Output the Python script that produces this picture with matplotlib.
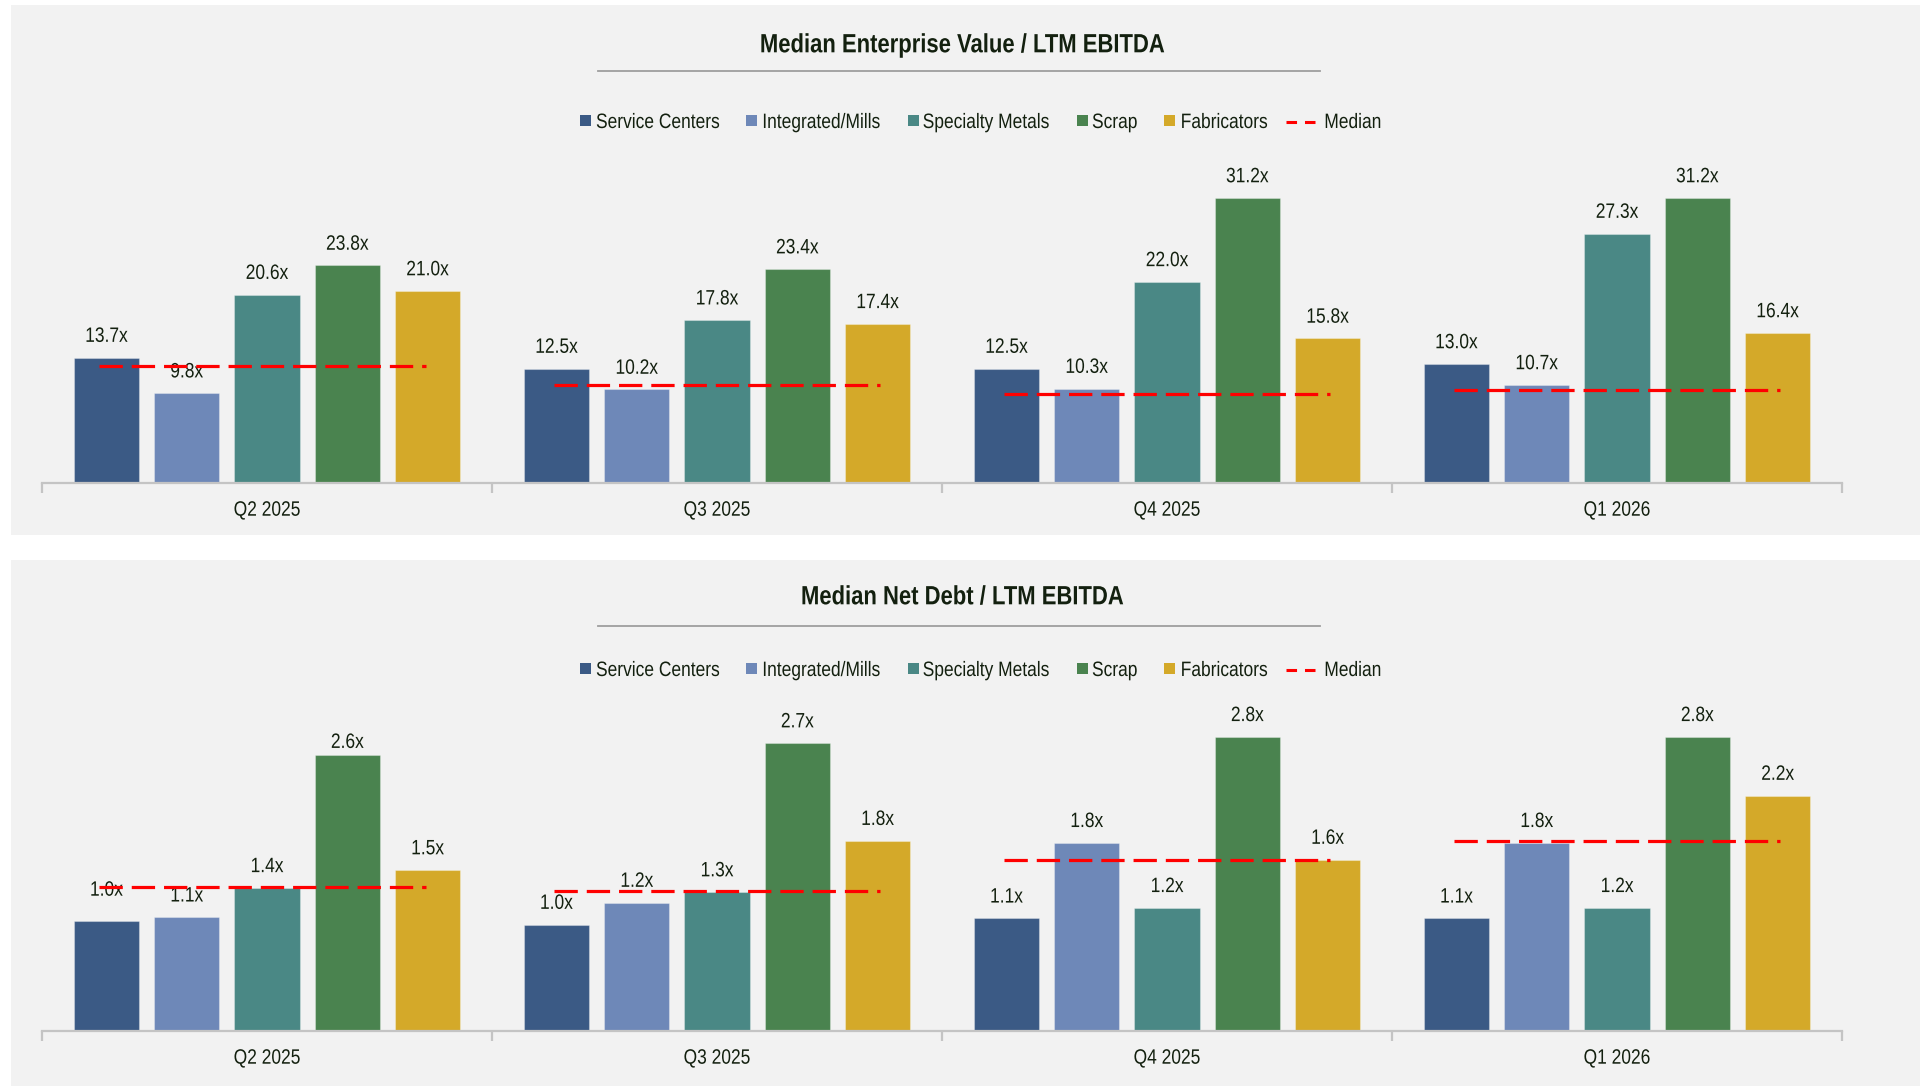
import matplotlib
matplotlib.use('Agg')
import matplotlib.pyplot as plt
import numpy as np
from matplotlib import font_manager as fm
import matplotlib.patches as mpatches
from matplotlib.lines import Line2D
from matplotlib.patheffects import AbstractPathEffect
from matplotlib.transforms import Affine2D

# ---------------- data ----------------
quarters = ['Q2 2025', 'Q3 2025', 'Q4 2025', 'Q1 2026']
segments = ['Service Centers', 'Integrated/Mills', 'Specialty Metals', 'Scrap', 'Fabricators']

ev_service_centers = [13.7, 12.5, 12.5, 13.0]
ev_integrated_mills = [9.8, 10.2, 10.3, 10.7]
ev_specialty_metals = [20.6, 17.8, 22.0, 27.3]
ev_scrap = [23.8, 23.4, 31.2, 31.2]
ev_fabricators = [21.0, 17.4, 15.8, 16.4]
ev_median = [12.72, 10.74, 9.75, 10.1]

nd_service_centers = [1.04, 1.01, 1.07, 1.07]
nd_integrated_mills = [1.08, 1.22, 1.79, 1.79]
nd_specialty_metals = [1.36, 1.32, 1.17, 1.17]
nd_scrap = [2.63, 2.74, 2.80, 2.80]
nd_fabricators = [1.53, 1.81, 1.63, 2.24]
nd_median = [1.365, 1.33, 1.63, 1.81]

colors = ['#3B5A85', '#6E88B8', '#4A8885', '#4A834F', '#D4A929']
median_color = '#FF0000'
text_color = '#13200F'

# ---------------- fonts ----------------
names = {f.name for f in fm.fontManager.ttflist}
narrow = 'Liberation Sans Narrow' in names
base = 'Liberation Sans Narrow' if narrow else 'Liberation Sans'
plt.rcParams['font.family'] = [base, 'DejaVu Sans']
SX = 1.0 if narrow else 0.835


class Condense(AbstractPathEffect):
    """Horizontally compress glyph outlines (emulates a narrow typeface)."""

    def __init__(self, sx=SX, anchor='center'):
        super().__init__()
        self.sx = sx
        self.anchor = anchor

    def draw_path(self, renderer, gc, tpath, affine, rgbFace=None):
        if self.anchor == 'center':
            ext = tpath.get_extents()
            cx = (ext.x0 + ext.x1) / 2
        else:
            cx = 0.0
        aff = Affine2D().translate(-cx, 0).scale(self.sx, 1).translate(cx, 0) + affine
        renderer.draw_path(gc, tpath, aff, rgbFace)


PE_C = [Condense(anchor='center')]
PE_L = [Condense(anchor='left')]

W, H = 1925, 1086
fig = plt.figure(figsize=(W / 100, H / 100), dpi=100)
fig.patch.set_facecolor('white')


def fx(px):
    return px / W


def fy(py):
    return 1 - py / H


# panel backgrounds
for (y0, y1) in [(5, 535), (560, 1086)]:
    fig.patches.append(mpatches.Rectangle((fx(11), fy(y1)), (1920 - 11) / W, (y1 - y0) / H,
                                          transform=fig.transFigure, facecolor='#F2F2F2',
                                          edgecolor='none', zorder=-10))

slot = 0.1784
bw = 0.1456
PT = 72 / 100  # points per pixel

# legend layout (pixel positions)
leg_marker_x = [580, 746, 907.7, 1077.3, 1164]
leg_text_x = [596, 762.3, 922.7, 1092, 1180.7, 1324.3]
leg_dash = (1285.7, 1315)


def draw_panel(ax, series, medians, ymax, title, dy_title, dy_line, dy_legend, nudges=None):
    nudges = nudges or {}
    x = np.arange(len(quarters))
    for j, (vals, c) in enumerate(zip(series, colors)):
        xs = x + (j - 2) * slot
        ax.bar(xs, vals, bw, color=c, zorder=2, edgecolor=(1, 1, 1, 0.3), linewidth=0.8)
        for i, (xi, v) in enumerate(zip(xs, vals)):
            off = 15.7 + nudges.get((j, i), 0)
            ax.annotate(f'{v:.1f}x', (xi, v), xytext=(0, off * PT), textcoords='offset points',
                        ha='center', va='baseline', fontsize=15, color=text_color, zorder=3,
                        path_effects=PE_C)
    for i, m in enumerate(medians):
        shift = -0.01 if i == 0 else 0.0
        ax.plot([i - 2 * slot - 0.006 + shift, i + 2 * slot + 0.006 + shift], [m, m],
                color=median_color, lw=2.3, dashes=(7.3, 2.8), zorder=4, dash_capstyle='butt')
    ax.set_xlim(-0.5, len(quarters) - 0.5)
    ax.set_ylim(0, ymax)
    ax.set_facecolor('none')
    for s in ['top', 'right', 'left']:
        ax.spines[s].set_visible(False)
    ax.spines['bottom'].set_color('#C4C4C4')
    ax.spines['bottom'].set_linewidth(1.6)
    ax.set_yticks([])
    ax.set_xticks(np.arange(-0.5, len(quarters)), labels=[''] * (len(quarters) + 1))
    ax.tick_params(axis='x', which='major', length=7, width=1.6, color='#C4C4C4')
    for i, q in enumerate(quarters):
        ax.annotate(q, (i, 0), xytext=(0, -33.2 * PT), textcoords='offset points',
                    ha='center', va='baseline', fontsize=15, color=text_color,
                    annotation_clip=False, path_effects=PE_C)

    # title + underline
    fig.text(0.5 - 0.5 / W, fy(52.3 + dy_title), title, ha='center', va='baseline', fontsize=19,
             fontweight='bold', color=text_color, path_effects=PE_C)
    fig.add_artist(Line2D([fx(598), fx(1320)], [fy(70.7 + dy_line)] * 2, color='#9E9E9E', lw=1.3))

    # legend (manual layout)
    yc = 120.5 + dy_legend
    s = 11
    for mx, c in zip(leg_marker_x, colors):
        fig.patches.append(mpatches.Rectangle((fx(mx), fy(yc + s / 2)), s / W, s / H,
                                              transform=fig.transFigure, facecolor=c,
                                              edgecolor='none'))
    fig.add_artist(Line2D([fx(leg_dash[0]), fx(leg_dash[1])], [fy(yc + 1)] * 2,
                          color=median_color, lw=2.2, dashes=(3.45, 2.6), dash_capstyle='butt'))
    for tx, lab in zip(leg_text_x, segments + ['Median']):
        fig.text(fx(tx), fy(yc + 7.5), lab, ha='left', va='baseline', fontsize=15,
                 color=text_color, path_effects=PE_L)


ax1 = fig.add_axes([fx(42), fy(482.5), 1800 / W, 332 / H])
draw_panel(ax1, [ev_service_centers, ev_integrated_mills, ev_specialty_metals, ev_scrap, ev_fabricators],
           ev_median, 332 / 9.12, 'Median Enterprise Value / LTM EBITDA', 0, 0, 0)

ax2 = fig.add_axes([fx(42), fy(1030.5), 1800 / W, 333 / H])
draw_panel(ax2, [nd_service_centers, nd_integrated_mills, nd_specialty_metals, nd_scrap, nd_fabricators],
           nd_median, 333 / 104.9, 'Median Net Debt / LTM EBITDA', 552, 555, 548,
           nudges={(0, 0): 10, (3, 0): -9})

fig.savefig('out.png', dpi=100, facecolor='white')
